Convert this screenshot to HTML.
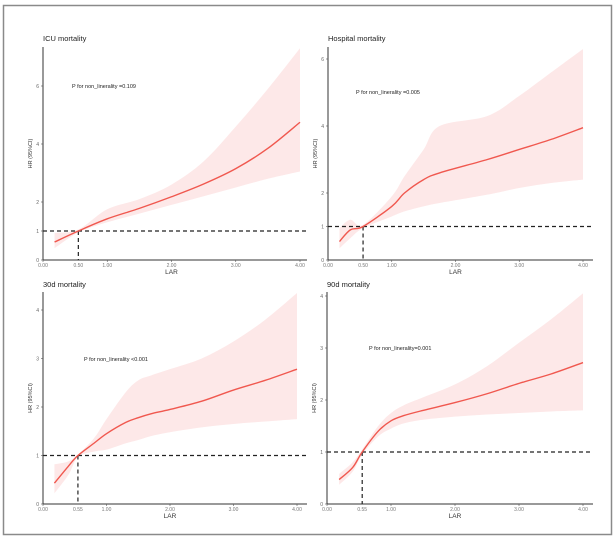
<!DOCTYPE html>
<html><head><meta charset="utf-8"><style>
html,body{margin:0;padding:0;background:#fff}
svg{display:block;font-family:"Liberation Sans",sans-serif}
</style></head><body>
<svg id="chart" width="616" height="539" viewBox="0 0 616 539">
<rect x="3.5" y="5.5" width="608" height="529" fill="none" stroke="#8a8a8a" stroke-width="1.5"/>
</svg>
<script>
// ICU mortality
const icuX=[0.18,0.55,1.0,1.5,2.0,2.5,3.0,3.5,4.0];
const icuHR=[0.62,1.0,1.42,1.78,2.18,2.62,3.15,3.85,4.75];
const icuLo=[0.41,0.95,1.3,1.6,1.9,2.2,2.5,2.8,3.05];
const icuHi=[0.93,1.05,1.75,2.1,2.6,3.4,4.6,5.9,7.3];
// Hospital mortality
const hosX=[0.18,0.35,0.55,1.0,1.2,1.5,1.75,2.5,3.0,3.5,4.0];
const hosHR=[0.55,0.9,1.0,1.6,2.0,2.4,2.6,3.0,3.3,3.6,3.95];
const hosLo=[0.35,0.65,0.95,1.3,1.45,1.6,1.7,1.95,2.15,2.3,2.4];
const hosHi=[0.95,1.2,1.05,1.9,2.5,3.3,4.0,4.3,4.9,5.6,6.3];
// 30d mortality
const d30X=[0.18,0.4,0.55,0.8,1.0,1.3,1.5,1.7,2.0,2.5,3.0,3.5,4.0];
const d30HR=[0.43,0.78,1.0,1.25,1.45,1.68,1.78,1.86,1.95,2.12,2.35,2.55,2.78];
const d30Lo=[0.22,0.6,0.97,1.08,1.12,1.25,1.32,1.4,1.48,1.58,1.65,1.7,1.75];
const d30Hi=[0.82,0.88,1.02,1.35,1.75,2.3,2.55,2.65,2.78,3.0,3.35,3.8,4.35];
// 90d mortality
const d90X=[0.19,0.4,0.55,0.8,1.0,1.2,1.5,2.0,2.5,3.0,3.5,4.0];
const d90HR=[0.47,0.7,1.0,1.4,1.6,1.7,1.8,1.95,2.12,2.32,2.5,2.72];
const d90Lo=[0.37,0.62,0.95,1.3,1.45,1.55,1.62,1.68,1.72,1.75,1.78,1.8];
const d90Hi=[0.58,0.8,1.05,1.5,1.75,1.9,2.05,2.3,2.65,3.1,3.55,4.05];
const topYTicks=[0,1,2,4,6];
const botYTicks=[0,1,2,3,4];
const xTicks=[0,1,2,3,4];
const xTickLabels=["0.00","1.00","2.00","3.00","4.00"];

const NS="http://www.w3.org/2000/svg";
const svg=document.getElementById('chart');
function mk(tag,attrs,parent){const e=document.createElementNS(NS,tag);for(const k in attrs)e.setAttribute(k,attrs[k]);(parent||svg).appendChild(e);return e;}
function smooth(pts){let d="M"+pts[0][0]+","+pts[0][1];for(let i=0;i<pts.length-1;i++){const p0=pts[Math.max(i-1,0)],p1=pts[i],p2=pts[i+1],p3=pts[Math.min(i+2,pts.length-1)];const c1=[p1[0]+(p2[0]-p0[0])/6,p1[1]+(p2[1]-p0[1])/6],c2=[p2[0]-(p3[0]-p1[0])/6,p2[1]-(p3[1]-p1[1])/6];d+=" C"+c1[0]+","+c1[1]+" "+c2[0]+","+c2[1]+" "+p2[0]+","+p2[1];}return d;}

const panels=[
 {key:'icu',title:'ICU mortality',x0:43,x4:300,xEnd:307,y0:260,ppu:29,top:47,X:icuX,HR:icuHR,Lo:icuLo,Hi:icuHi,yt:topYTicks,ref:0.55,refLab:"0.50",p:"P for non_linerality =0.109",px:72,py:88,tx:43,ty:41},
 {key:'hospital',title:'Hospital mortality',x0:328,x4:583,xEnd:593,y0:260,ppu:33.5,top:47,X:hosX,HR:hosHR,Lo:hosLo,Hi:hosHi,yt:topYTicks,ref:0.55,refLab:"0.50",p:"P for non_linerality =0.005",px:356,py:94,tx:328,ty:41},
 {key:'30d',title:'30d mortality',x0:43,x4:297,xEnd:307,y0:504,ppu:48.5,top:292,X:d30X,HR:d30HR,Lo:d30Lo,Hi:d30Hi,yt:botYTicks,ref:0.55,refLab:"0.55",p:"P for non_linerality <0.001",px:84,py:361,tx:43,ty:287},
 {key:'90d',title:'90d mortality',x0:327,x4:583,xEnd:593,y0:504,ppu:52,top:292,X:d90X,HR:d90HR,Lo:d90Lo,Hi:d90Hi,yt:botYTicks,ref:0.55,refLab:"0.55",p:"P for non_linerality=0.001",px:369,py:350,tx:327,ty:287}
];
panels.forEach(P=>{
 const g=mk('g',{});
 
 
 const sx=v=>P.x0+(P.x4-P.x0)*v/4, sy=v=>P.y0-P.ppu*v;
 const up=P.X.map((x,i)=>[sx(x),sy(P.Hi[i])]);
 const lo=P.X.map((x,i)=>[sx(x),sy(P.Lo[i])]).reverse();
 const band=mk('path',{d:smooth(up)+" L"+lo[0][0]+","+lo[0][1]+smooth(lo).replace(/^M[^ C]+/,"")+" Z",fill:'#fde8e8',stroke:'none'},g);
 
 
 const ya=mk('line',{x1:P.x0,y1:P.top,x2:P.x0,y2:P.y0,stroke:'#333','stroke-width':1},g);
 
 
 const xa=mk('line',{x1:P.x0,y1:P.y0,x2:P.xEnd,y2:P.y0,stroke:'#333','stroke-width':1},g);
 
 
 P.yt.forEach(v=>{
  mk('line',{x1:P.x0-2,y1:sy(v),x2:P.x0,y2:sy(v),stroke:'#555','stroke-width':0.6},g);
  const t=mk('text',{x:P.x0-4,y:sy(v)+2,'font-size':5,fill:'#666','text-anchor':'end'},g);
  t.textContent=v;
  
  
 });
 xTicks.forEach((v,i)=>{
  mk('line',{x1:sx(v),y1:P.y0,x2:sx(v),y2:P.y0+2,stroke:'#555','stroke-width':0.6},g);
  const t=mk('text',{x:sx(v),y:P.y0+7,'font-size':5,fill:'#777','text-anchor':'middle'},g);
  t.textContent=xTickLabels[i];
  
  
 });
 const rt=mk('text',{x:sx(P.ref),y:P.y0+7,'font-size':5,fill:'#777','text-anchor':'middle'},g);
 rt.textContent=P.refLab;
 
 
 const h=mk('line',{x1:P.x0,y1:sy(1),x2:P.xEnd,y2:sy(1),stroke:'#222','stroke-width':1.2,'stroke-dasharray':'4,3'},g);
 
 
 const v=mk('line',{x1:sx(P.ref),y1:sy(1),x2:sx(P.ref),y2:P.y0,stroke:'#222','stroke-width':1.2,'stroke-dasharray':'4,3'},g);
 
 
 const c=mk('path',{d:smooth(P.X.map((x,i)=>[sx(x),sy(P.HR[i])])),fill:'none',stroke:'#f0584f','stroke-width':1.4},g);
 
 
 const ti=mk('text',{x:P.tx,y:P.ty,'font-size':7.5,fill:'#222'},g);
 ti.textContent=P.title;
 
 
 const pt=mk('text',{x:P.px,y:P.py,'font-size':5.5,fill:'#222'},g);
 pt.textContent=P.p;
 
 
 const xl=mk('text',{x:(P.x0+P.x4)/2,y:P.y0+14,'font-size':6.5,fill:'#333','text-anchor':'middle'},g);
 xl.textContent='LAR';
 
 
 const ym=(P.top+P.y0)/2, yx=P.x0-11;
 const yl=mk('text',{x:yx,y:ym,'font-size':5.5,fill:'#333','text-anchor':'middle',transform:'rotate(-90 '+yx+' '+ym+')'},g);
 yl.textContent='HR (95%CI)';
 
 
});
</script>
</body></html>
